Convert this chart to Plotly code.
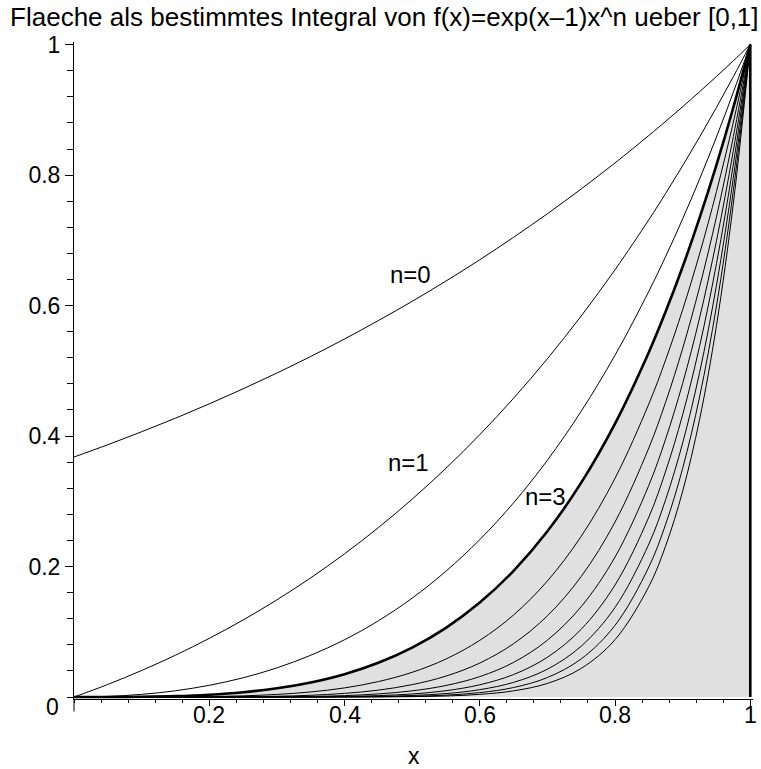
import plotly.graph_objects as go

# sample positions on [0,1]
x_vals = [0, 0.05, 0.10, 0.15, 0.20, 0.25, 0.30, 0.35, 0.40, 0.45, 0.50, 0.55,
          0.60, 0.65, 0.70, 0.75, 0.80, 0.85, 0.875, 0.90, 0.925, 0.95, 0.975, 1.0]

# f(x)=exp(x-1)x^n
f_n0 = [0.3679, 0.3867, 0.4066, 0.4274, 0.4493, 0.4724, 0.4966, 0.5220, 0.5488, 0.5770, 0.6065, 0.6376,
        0.6703, 0.7047, 0.7408, 0.7788, 0.8187, 0.8607, 0.8825, 0.9048, 0.9277, 0.9512, 0.9753, 1.0]
f_n1 = [0, 0.0193, 0.0407, 0.0641, 0.0899, 0.1181, 0.1490, 0.1827, 0.2195, 0.2596, 0.3033, 0.3507,
        0.4022, 0.4580, 0.5186, 0.5841, 0.6550, 0.7316, 0.7722, 0.8144, 0.8582, 0.9037, 0.9509, 1.0]
f_n2 = [0, 0.0010, 0.0041, 0.0096, 0.0180, 0.0295, 0.0447, 0.0640, 0.0878, 0.1168, 0.1516, 0.1929,
        0.2413, 0.2977, 0.3630, 0.4381, 0.5240, 0.6219, 0.6757, 0.7329, 0.7938, 0.8585, 0.9272, 1.0]
f_n3 = [0, 0.0000, 0.0004, 0.0014, 0.0036, 0.0074, 0.0134, 0.0224, 0.0351, 0.0526, 0.0758, 0.1061,
        0.1448, 0.1935, 0.2541, 0.3286, 0.4192, 0.5286, 0.5912, 0.6596, 0.7343, 0.8156, 0.9040, 1.0]
f_n4 = [0, 0, 0.0000, 0.0002, 0.0007, 0.0018, 0.0040, 0.0078, 0.0140, 0.0237, 0.0379, 0.0583,
        0.0869, 0.1258, 0.1779, 0.2464, 0.3354, 0.4493, 0.5173, 0.5937, 0.6792, 0.7748, 0.8814, 1.0]
f_n5 = [0, 0, 0, 0.0000, 0.0001, 0.0005, 0.0012, 0.0027, 0.0056, 0.0106, 0.0190, 0.0321,
        0.0521, 0.0818, 0.1245, 0.1848, 0.2683, 0.3819, 0.4526, 0.5343, 0.6283, 0.7360, 0.8593, 1.0]
f_n6 = [0, 0, 0, 0, 0.0000, 0.0001, 0.0004, 0.0010, 0.0022, 0.0048, 0.0095, 0.0177,
        0.0313, 0.0531, 0.0872, 0.1386, 0.2146, 0.3246, 0.3961, 0.4809, 0.5811, 0.6992, 0.8379, 1.0]
f_n7 = [0, 0, 0, 0, 0, 0.0000, 0.0001, 0.0003, 0.0009, 0.0022, 0.0047, 0.0097,
        0.0188, 0.0345, 0.0610, 0.1040, 0.1717, 0.2759, 0.3466, 0.4328, 0.5376, 0.6643, 0.8169, 1.0]
f_n8 = [0, 0, 0, 0, 0, 0, 0.0000, 0.0001, 0.0004, 0.0010, 0.0024, 0.0053,
        0.0113, 0.0225, 0.0427, 0.0780, 0.1374, 0.2345, 0.3032, 0.3895, 0.4972, 0.6311, 0.7965, 1.0]
f_n9 = [0, 0, 0, 0, 0, 0, 0, 0.0000, 0.0001, 0.0004, 0.0012, 0.0029,
        0.0068, 0.0146, 0.0299, 0.0585, 0.1099, 0.1994, 0.2653, 0.3506, 0.4599, 0.5995, 0.7766, 1.0]
f_n10 = [0, 0, 0, 0, 0, 0, 0, 0, 0.0001, 0.0002, 0.0006, 0.0016,
         0.0041, 0.0095, 0.0209, 0.0439, 0.0879, 0.1695, 0.2322, 0.3155, 0.4254, 0.5695, 0.7572, 1.0]

curves = [f_n0, f_n1, f_n2, f_n3, f_n4, f_n5, f_n6, f_n7, f_n8, f_n9, f_n10]
highlight_n = 3
interval = [0, 1]           # integration interval
right_edge_y = [0, 1]       # vertical boundary at x=1 (from 0 up to f_n3(1))

labels = ["n=0", "n=1", "n=3"]
label_x = [0.497, 0.494, 0.697]
label_y = [0.647, 0.359, 0.307]

x_ticks = [0.2, 0.4, 0.6, 0.8, 1]
x_ticktext = ["0.2", "0.4", "0.6", "0.8", "1"]
y_ticks = [0.2, 0.4, 0.6, 0.8, 1]
y_ticktext = ["0.2", "0.4", "0.6", "0.8", "1"]

FONT = "Liberation Sans, Arial, Helvetica, sans-serif"
FS = 23

fig = go.Figure()

# shaded area under f_n3
fig.add_trace(go.Scatter(x=x_vals, y=curves[highlight_n], mode="lines",
                         line=dict(width=0, shape="spline"), fill="tozeroy",
                         fillcolor="#e0e0e0", hoverinfo="skip", showlegend=False))

for n, ys in enumerate(curves):
    if n == highlight_n:
        continue
    fig.add_trace(go.Scatter(x=x_vals, y=ys, mode="lines",
                             line=dict(color="black", width=1, shape="spline"),
                             showlegend=False, name=f"n={n}"))

fig.add_trace(go.Scatter(x=x_vals, y=curves[highlight_n], mode="lines",
                         line=dict(color="black", width=2.6, shape="spline"),
                         showlegend=False, name="n=3"))

# right boundary of the integration interval
fig.add_trace(go.Scatter(x=[interval[1], interval[1]], y=right_edge_y, mode="lines",
                         line=dict(color="black", width=2.6), showlegend=False))

for t, lx, ly in zip(labels, label_x, label_y):
    fig.add_annotation(x=lx, y=ly, text=t, showarrow=False,
                       font=dict(family=FONT, size=24, color="black"),
                       xanchor="center", yanchor="middle")

# x tick labels (placed close under the axis as in the Maple output)
for tv, tt in zip(x_ticks, x_ticktext):
    fig.add_annotation(x=tv, y=0, yref="paper", text=tt, showarrow=False,
                       xanchor="center", yanchor="middle", yshift=-16,
                       font=dict(family=FONT, size=FS, color="black"))

# origin label "0" (Maple puts it slightly below the axis)
fig.add_annotation(xref="paper", yref="y", x=0, y=0, text="0", showarrow=False,
                   xanchor="right", yanchor="middle", xshift=-13, yshift=-10,
                   font=dict(family=FONT, size=FS, color="black"))
# x-axis title
fig.add_annotation(xref="paper", yref="paper", x=0.5, y=-(769 - 697) / 652, text="x",
                   showarrow=False, xanchor="center", yanchor="bottom", yshift=1,
                   font=dict(family=FONT, size=FS, color="black"))

# y-axis line continues a little below the x-axis
fig.add_shape(type="line", xref="paper", yref="paper", x0=0, x1=0, y0=0, y1=-0.019,
              line=dict(color="black", width=1))

fig.update_layout(
    width=761, height=769,
    margin=dict(l=74, r=8, t=42, b=70, autoexpand=False),
    paper_bgcolor="white", plot_bgcolor="white",
    title=dict(text="Flaeche als bestimmtes Integral von f(x)=exp(x\u20131)x^n ueber [0,1]",
               x=0.505, xref="container", xanchor="center",
               y=1 - 17 / 769, yref="container", yanchor="middle",
               font=dict(family=FONT, size=26, color="black")),
    font=dict(family=FONT, size=FS, color="black"),
    showlegend=False,
)

fig.update_xaxes(range=[0, 1.004], tickvals=x_ticks, showticklabels=False,
                 showgrid=False, zeroline=False, showline=True, linecolor="black", linewidth=1,
                 ticks="outside", ticklen=6, tickcolor="black", tickwidth=1,
                 minor=dict(dtick=0.04, tick0=0, ticks="outside", ticklen=3, tickcolor="black"))
fig.update_yaxes(range=[-0.003, 1.004], tickvals=y_ticks, ticktext=y_ticktext,
                 showgrid=False, zeroline=False, showline=True, linecolor="black", linewidth=1,
                 ticks="outside", ticklen=8, tickcolor="black", tickwidth=1,
                 minor=dict(dtick=0.04, tick0=0, ticks="outside", ticklen=6, tickcolor="black"),
                 tickfont=dict(family=FONT, size=FS, color="black"))

fig.write_html("out.html", config={"displayModeBar": False},
               post_script="document.body.style.margin='0px';document.body.style.overflow='hidden';")
